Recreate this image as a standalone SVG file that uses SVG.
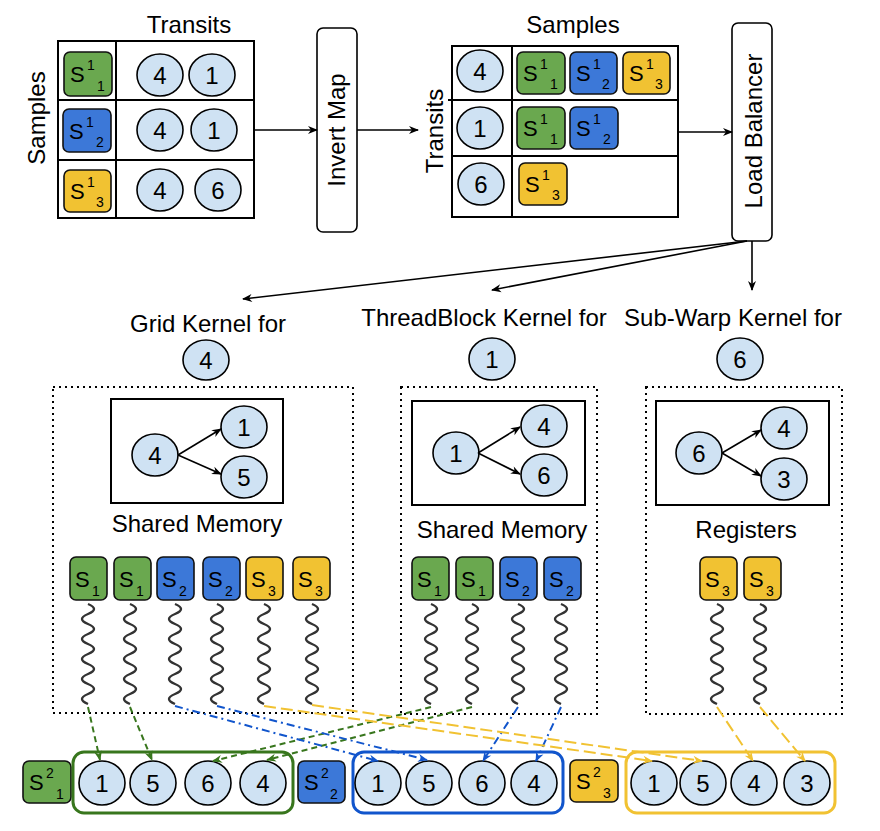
<svg xmlns="http://www.w3.org/2000/svg" xmlns:xlink="http://www.w3.org/1999/xlink" width="880" height="831" viewBox="0 0 880 831">
<style>
text{font-family:"Liberation Sans",Arial,sans-serif;fill:#000}
.t{font-size:24px;text-anchor:middle}
.num{font-size:24px;text-anchor:middle}
text.S{font-size:22px}
text.k{font-size:14px}
.tbl{fill:none;stroke:#000;stroke-width:2}
.ln{stroke:#000;stroke-width:2}
.ell{fill:#cfe2f3;stroke:#000;stroke-width:1.6}
.sg{fill:#6aa84f;stroke:#111;stroke-width:1.6}
.sb{fill:#3c78d8;stroke:#111;stroke-width:1.6}
.sy{fill:#f1c232;stroke:#111;stroke-width:1.6}
.box{fill:#fff;stroke:#000;stroke-width:1.6}
.dot{fill:none;stroke:#000;stroke-width:2;stroke-dasharray:2 4}
.inner{fill:none;stroke:#000;stroke-width:2}
.arr{stroke:#000;stroke-width:1.6;fill:none;marker-end:url(#ak)}
.wave{fill:none;stroke:#333;stroke-width:2.4}
.dg{fill:none;stroke:#38761d;stroke-width:2;stroke-dasharray:6 4;marker-end:url(#ag)}
.db{fill:none;stroke:#1155cc;stroke-width:2;stroke-dasharray:8 4 2 4;marker-end:url(#ab)}
.dy{fill:none;stroke:#f1c232;stroke-width:2;stroke-dasharray:12 5;marker-end:url(#ay)}
.cg{fill:none;stroke:#38761d;stroke-width:3}
.cb{fill:none;stroke:#1155cc;stroke-width:3}
.cy{fill:none;stroke:#f1c232;stroke-width:3}
</style>
<defs>
<marker id="ak" viewBox="0 0 10 10" refX="9" refY="5" markerWidth="11" markerHeight="10" markerUnits="userSpaceOnUse" orient="auto"><path d="M0,1 L10,5 L0,9 L3,5 z" fill="#000"/></marker>
<marker id="ag" viewBox="0 0 10 10" refX="9" refY="5" markerWidth="11" markerHeight="10" markerUnits="userSpaceOnUse" orient="auto"><path d="M0,1 L10,5 L0,9 L3,5 z" fill="#38761d"/></marker>
<marker id="ab" viewBox="0 0 10 10" refX="9" refY="5" markerWidth="11" markerHeight="10" markerUnits="userSpaceOnUse" orient="auto"><path d="M0,1 L10,5 L0,9 L3,5 z" fill="#1155cc"/></marker>
<marker id="ay" viewBox="0 0 10 10" refX="9" refY="5" markerWidth="11" markerHeight="10" markerUnits="userSpaceOnUse" orient="auto"><path d="M0,1 L10,5 L0,9 L3,5 z" fill="#f1c232"/></marker>
<path id="wv" class="wave" d="M0,0 q12,5 0,10 q-12,5 0,10 q12,5 0,10 q-12,5 0,10 q12,5 0,10 q-12,5 0,10 q12,5 0,10 q-12,5 0,10 q12,5 0,10 q-12,5 0,10"/>
</defs>

<!-- Top-left table: Samples -> Transits -->
<g id="table-samples">
<text class="t" x="189" y="33">Transits</text>
<text class="t" transform="translate(45,118) rotate(-90)">Samples</text>
<rect class="tbl" x="58" y="41" width="196" height="177"/>
<line class="ln" x1="116" y1="41" x2="116" y2="218"/>
<line class="ln" x1="58" y1="100" x2="254" y2="100"/>
<line class="ln" x1="58" y1="160" x2="254" y2="160"/>
<rect class="sg" x="64" y="52" width="48" height="44" rx="6"/>
<text class="S" x="70" y="82" style="font-size:22px">S</text><text class="k" x="87" y="70" style="font-size:14px">1</text><text class="k" x="97" y="91" style="font-size:14px">1</text>
<rect class="sb" x="63" y="109" width="48" height="43" rx="6"/>
<text class="S" x="69" y="139" style="font-size:22px">S</text><text class="k" x="86" y="127" style="font-size:14px">1</text><text class="k" x="96" y="147" style="font-size:14px">2</text>
<rect class="sy" x="64" y="170" width="47" height="42" rx="6"/>
<text class="S" x="70" y="199" style="font-size:22px">S</text><text class="k" x="87" y="187" style="font-size:14px">1</text><text class="k" x="96" y="207" style="font-size:14px">3</text>
<ellipse class="ell" cx="160" cy="75" rx="23" ry="21"/><text class="num" x="160" y="84">4</text>
<ellipse class="ell" cx="212" cy="75" rx="23" ry="21"/><text class="num" x="212" y="84">1</text>
<ellipse class="ell" cx="160" cy="130" rx="23" ry="21"/><text class="num" x="160" y="139">4</text>
<ellipse class="ell" cx="214" cy="130" rx="23" ry="21"/><text class="num" x="214" y="139">1</text>
<ellipse class="ell" cx="160" cy="190" rx="23" ry="21"/><text class="num" x="160" y="199">4</text>
<ellipse class="ell" cx="218" cy="190" rx="23" ry="21"/><text class="num" x="218" y="199">6</text>
</g>

<g id="invert-map">
<rect class="box" x="317" y="28" width="40" height="204" rx="6"/>
<text class="t" transform="translate(345,130) rotate(-90)">Invert Map</text>
</g>

<!-- Top-right table: Transits -> Samples -->
<g id="table-transits">
<text class="t" x="573" y="33">Samples</text>
<text class="t" transform="translate(443,131) rotate(-90)">Transits</text>
<rect class="tbl" x="452" y="46" width="226" height="171"/>
<line class="ln" x1="512" y1="46" x2="512" y2="217"/>
<line class="ln" x1="448" y1="100" x2="678" y2="100"/>
<line class="ln" x1="452" y1="156" x2="678" y2="156"/>
<ellipse class="ell" cx="480" cy="71" rx="23" ry="21"/><text class="num" x="480" y="80">4</text>
<ellipse class="ell" cx="480" cy="128" rx="23" ry="21"/><text class="num" x="480" y="137">1</text>
<ellipse class="ell" cx="481" cy="184" rx="23" ry="21"/><text class="num" x="481" y="193">6</text>
<rect class="sg" x="517" y="52" width="48" height="42" rx="6"/>
<text class="S" x="523" y="81" style="font-size:22px">S</text><text class="k" x="540" y="69" style="font-size:14px">1</text><text class="k" x="550" y="89" style="font-size:14px">1</text>
<rect class="sb" x="570" y="52" width="47" height="42" rx="6"/>
<text class="S" x="576" y="81" style="font-size:22px">S</text><text class="k" x="593" y="69" style="font-size:14px">1</text><text class="k" x="602" y="89" style="font-size:14px">2</text>
<rect class="sy" x="623" y="52" width="47" height="42" rx="6"/>
<text class="S" x="629" y="81" style="font-size:22px">S</text><text class="k" x="646" y="69" style="font-size:14px">1</text><text class="k" x="655" y="89" style="font-size:14px">3</text>
<rect class="sg" x="517" y="107" width="48" height="42" rx="6"/>
<text class="S" x="523" y="136" style="font-size:22px">S</text><text class="k" x="540" y="124" style="font-size:14px">1</text><text class="k" x="550" y="144" style="font-size:14px">1</text>
<rect class="sb" x="570" y="107" width="48" height="42" rx="6"/>
<text class="S" x="576" y="136" style="font-size:22px">S</text><text class="k" x="593" y="124" style="font-size:14px">1</text><text class="k" x="603" y="144" style="font-size:14px">2</text>
<rect class="sy" x="519" y="163" width="48" height="42" rx="6"/>
<text class="S" x="525" y="192" style="font-size:22px">S</text><text class="k" x="542" y="180" style="font-size:14px">1</text><text class="k" x="552" y="200" style="font-size:14px">3</text>
</g>

<g id="load-balancer">
<rect class="box" x="732" y="23" width="40" height="218" rx="6"/>
<text class="t" transform="translate(762,131) rotate(-90)">Load Balancer</text>
</g>

<!-- Grid kernel -->
<g id="grid-kernel">
<text class="t" x="208" y="332">Grid Kernel for</text>
<ellipse class="ell" cx="206" cy="360" rx="23" ry="20"/><text class="num" x="206" y="369">4</text>
<rect class="dot" x="53" y="387" width="300" height="326"/>
<rect class="inner" x="111" y="399" width="172" height="104"/>
<ellipse class="ell" cx="155" cy="455" rx="23" ry="21"/><text class="num" x="155" y="464">4</text>
<ellipse class="ell" cx="244" cy="427" rx="23" ry="21"/><text class="num" x="244" y="436">1</text>
<ellipse class="ell" cx="244" cy="477" rx="23" ry="21"/><text class="num" x="244" y="486">5</text>
<line class="arr" x1="178" y1="455" x2="221" y2="429"/>
<line class="arr" x1="178" y1="455" x2="221" y2="474"/>
<text class="t" x="197" y="532">Shared Memory</text>
<rect class="sg" x="70" y="557" width="37" height="43" rx="6"/><text class="S" x="75" y="587" style="font-size:22px">S</text><text class="k" x="92" y="596" style="font-size:14px">1</text>
<rect class="sg" x="114" y="557" width="37" height="43" rx="6"/><text class="S" x="119" y="587" style="font-size:22px">S</text><text class="k" x="136" y="596" style="font-size:14px">1</text>
<rect class="sb" x="157" y="557" width="37" height="43" rx="6"/><text class="S" x="162" y="587" style="font-size:22px">S</text><text class="k" x="179" y="596" style="font-size:14px">2</text>
<rect class="sb" x="203" y="557" width="37" height="43" rx="6"/><text class="S" x="208" y="587" style="font-size:22px">S</text><text class="k" x="225" y="596" style="font-size:14px">2</text>
<rect class="sy" x="246" y="557" width="37" height="43" rx="6"/><text class="S" x="251" y="587" style="font-size:22px">S</text><text class="k" x="268" y="596" style="font-size:14px">3</text>
<rect class="sy" x="293" y="557" width="37" height="43" rx="6"/><text class="S" x="298" y="587" style="font-size:22px">S</text><text class="k" x="315" y="596" style="font-size:14px">3</text>
<use xlink:href="#wv" x="88" y="604"/>
<use xlink:href="#wv" x="130" y="604"/>
<use xlink:href="#wv" x="175" y="604"/>
<use xlink:href="#wv" x="217" y="604"/>
<use xlink:href="#wv" x="264" y="604"/>
<use xlink:href="#wv" x="312" y="604"/>
</g>

<!-- ThreadBlock kernel -->
<g id="threadblock-kernel">
<text class="t" x="484" y="326">ThreadBlock Kernel for</text>
<ellipse class="ell" cx="492" cy="359" rx="23" ry="21"/><text class="num" x="492" y="368">1</text>
<rect class="dot" x="401" y="387" width="196" height="327"/>
<rect class="inner" x="412" y="401" width="173" height="104"/>
<ellipse class="ell" cx="456" cy="453" rx="23" ry="21"/><text class="num" x="456" y="462">1</text>
<ellipse class="ell" cx="544" cy="426" rx="23" ry="21"/><text class="num" x="544" y="435">4</text>
<ellipse class="ell" cx="544" cy="475" rx="23" ry="21"/><text class="num" x="544" y="484">6</text>
<line class="arr" x1="478" y1="453" x2="520" y2="427"/>
<line class="arr" x1="478" y1="453" x2="520" y2="474"/>
<text class="t" x="502" y="538">Shared Memory</text>
<rect class="sg" x="412" y="557" width="37" height="43" rx="6"/><text class="S" x="417" y="587" style="font-size:22px">S</text><text class="k" x="434" y="596" style="font-size:14px">1</text>
<rect class="sg" x="456" y="557" width="37" height="43" rx="6"/><text class="S" x="461" y="587" style="font-size:22px">S</text><text class="k" x="478" y="596" style="font-size:14px">1</text>
<rect class="sb" x="500" y="557" width="37" height="43" rx="6"/><text class="S" x="505" y="587" style="font-size:22px">S</text><text class="k" x="522" y="596" style="font-size:14px">2</text>
<rect class="sb" x="544" y="557" width="37" height="43" rx="6"/><text class="S" x="549" y="587" style="font-size:22px">S</text><text class="k" x="566" y="596" style="font-size:14px">2</text>
<use xlink:href="#wv" x="431" y="604"/>
<use xlink:href="#wv" x="472" y="604"/>
<use xlink:href="#wv" x="518" y="604"/>
<use xlink:href="#wv" x="561" y="604"/>
</g>

<!-- Sub-Warp kernel -->
<g id="subwarp-kernel">
<text class="t" x="733" y="326">Sub-Warp Kernel for</text>
<ellipse class="ell" cx="740" cy="359" rx="23" ry="21"/><text class="num" x="740" y="368">6</text>
<rect class="dot" x="646" y="387" width="196" height="327"/>
<rect class="inner" x="656" y="401" width="173" height="104"/>
<ellipse class="ell" cx="699" cy="453" rx="23" ry="21"/><text class="num" x="699" y="462">6</text>
<ellipse class="ell" cx="784" cy="428" rx="23" ry="21"/><text class="num" x="784" y="437">4</text>
<ellipse class="ell" cx="784" cy="479" rx="23" ry="21"/><text class="num" x="784" y="488">3</text>
<line class="arr" x1="722" y1="453" x2="761" y2="430"/>
<line class="arr" x1="722" y1="453" x2="761" y2="476"/>
<text class="t" x="746" y="538">Registers</text>
<rect class="sy" x="700" y="557" width="37" height="43" rx="6"/><text class="S" x="705" y="587" style="font-size:22px">S</text><text class="k" x="722" y="596" style="font-size:14px">3</text>
<rect class="sy" x="744" y="557" width="37" height="43" rx="6"/><text class="S" x="749" y="587" style="font-size:22px">S</text><text class="k" x="766" y="596" style="font-size:14px">3</text>
<use xlink:href="#wv" x="717" y="604"/>
<use xlink:href="#wv" x="760" y="604"/>
</g>

<!-- Bottom: output sample lists -->
<g id="out-s1">
<rect class="sg" x="23" y="761" width="48" height="42" rx="6"/>
<text class="S" x="29" y="790" style="font-size:22px">S</text><text class="k" x="46" y="778" style="font-size:14px">2</text><text class="k" x="56" y="799" style="font-size:14px">1</text>
<rect class="cg" x="73" y="752" width="220" height="61" rx="11"/>
<ellipse class="ell" cx="102" cy="783" rx="23" ry="22"/><text class="num" x="102" y="792">1</text>
<ellipse class="ell" cx="153" cy="783" rx="23" ry="22"/><text class="num" x="153" y="792">5</text>
<ellipse class="ell" cx="208" cy="783" rx="23" ry="22"/><text class="num" x="208" y="792">6</text>
<ellipse class="ell" cx="263" cy="783" rx="23" ry="22"/><text class="num" x="263" y="792">4</text>
</g>
<g id="out-s2">
<rect class="sb" x="298" y="761" width="47" height="42" rx="6"/>
<text class="S" x="304" y="790" style="font-size:22px">S</text><text class="k" x="321" y="778" style="font-size:14px">2</text><text class="k" x="330" y="799" style="font-size:14px">2</text>
<rect class="cb" x="353" y="752" width="210" height="61" rx="11"/>
<ellipse class="ell" cx="378" cy="783" rx="23" ry="22"/><text class="num" x="378" y="792">1</text>
<ellipse class="ell" cx="429" cy="783" rx="23" ry="22"/><text class="num" x="429" y="792">5</text>
<ellipse class="ell" cx="482" cy="783" rx="23" ry="22"/><text class="num" x="482" y="792">6</text>
<ellipse class="ell" cx="534" cy="783" rx="23" ry="22"/><text class="num" x="534" y="792">4</text>
</g>
<g id="out-s3">
<rect class="sy" x="570" y="760" width="48" height="42" rx="6"/>
<text class="S" x="576" y="789" style="font-size:22px">S</text><text class="k" x="593" y="777" style="font-size:14px">2</text><text class="k" x="603" y="798" style="font-size:14px">3</text>
<rect class="cy" x="626" y="752" width="209" height="61" rx="11"/>
<ellipse class="ell" cx="654" cy="783" rx="23" ry="22"/><text class="num" x="654" y="792">1</text>
<ellipse class="ell" cx="703" cy="783" rx="23" ry="22"/><text class="num" x="703" y="792">5</text>
<ellipse class="ell" cx="754" cy="783" rx="23" ry="22"/><text class="num" x="754" y="792">4</text>
<ellipse class="ell" cx="807" cy="783" rx="23" ry="22"/><text class="num" x="807" y="792">3</text>
</g>

<g id="connectors">
<line class="arr" x1="254" y1="130" x2="317" y2="130"/>
<line class="arr" x1="357" y1="130" x2="418" y2="130"/>
<line class="arr" x1="678" y1="132" x2="732" y2="132"/>
<line class="arr" x1="747" y1="241" x2="243" y2="299"/>
<line class="arr" x1="747" y1="241" x2="492" y2="290"/>
<line class="arr" x1="752" y1="241" x2="752" y2="290"/>
<line class="dg" x1="88" y1="707" x2="100" y2="760"/>
<line class="dg" x1="130" y1="707" x2="152" y2="760"/>
<line class="dg" x1="431" y1="707" x2="213" y2="761"/>
<line class="dg" x1="472" y1="707" x2="267" y2="760"/>
<line class="db" x1="175" y1="706" x2="378" y2="761"/>
<line class="db" x1="217" y1="706" x2="427" y2="760"/>
<line class="db" x1="518" y1="707" x2="483" y2="761"/>
<line class="db" x1="561" y1="707" x2="536" y2="761"/>
<line class="dy" x1="264" y1="706" x2="652" y2="761"/>
<line class="dy" x1="312" y1="705" x2="702" y2="761"/>
<line class="dy" x1="717" y1="707" x2="753" y2="761"/>
<line class="dy" x1="760" y1="707" x2="805" y2="761"/>
</g>
</svg>
